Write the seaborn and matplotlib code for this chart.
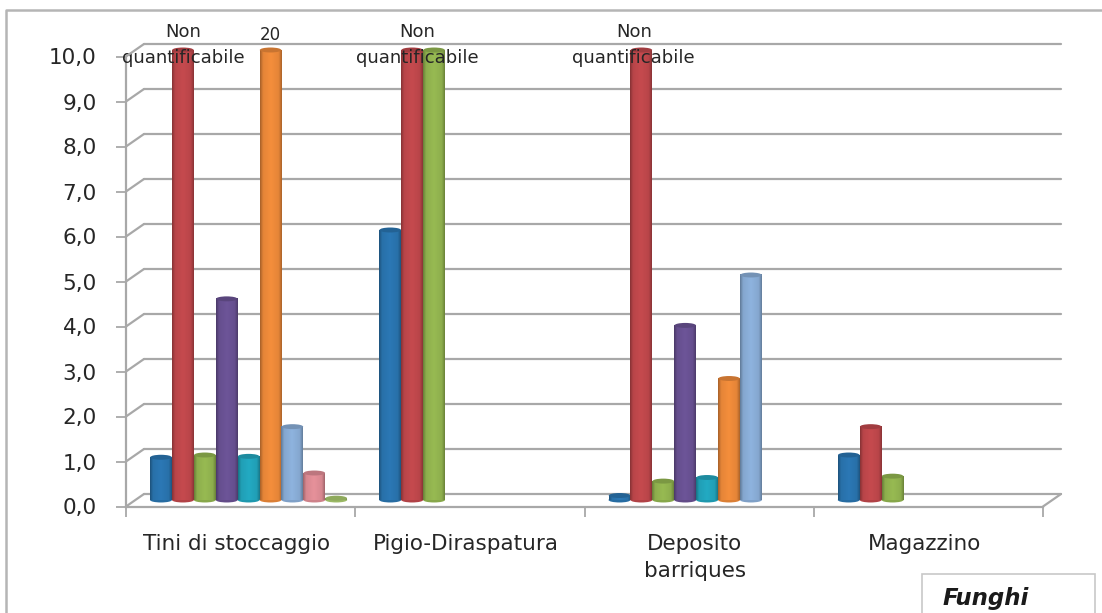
import numpy as np
import pandas as pd
import matplotlib
matplotlib.use("Agg")
import matplotlib.pyplot as plt
from matplotlib.colors import LinearSegmentedColormap, to_rgb
from matplotlib.lines import Line2D
from matplotlib.patches import Ellipse, Rectangle
import seaborn as sns

categories = ["Tini di stoccaggio", "Pigio-Diraspatura", "Deposito\nbarriques", "Magazzino"]
series_names = ["A", "B", "C", "D", "E", "F", "G", "H", "I"]
nan = float("nan")
s_a = [0.95, 6.0, 0.1, 1.0]
s_b = [10.0, 10.0, 10.0, 1.63]
s_c = [1.0, 10.0, 0.42, 0.53]
s_d = [4.47, nan, 3.88, nan]
s_e = [0.97, nan, 0.5, nan]
s_f = [10.0, nan, 2.7, nan]
s_g = [1.63, nan, 5.0, nan]
s_h = [0.6, nan, nan, nan]
s_i = [0.04, nan, nan, nan]
colors = ["#2a75b0", "#c0484c", "#93b550", "#6a5294", "#22a5bd",
          "#ee8a3a", "#8aaed8", "#e08d96", "#a9c96e"]
y_ticks = [0, 1, 2, 3, 4, 5, 6, 7, 8, 9, 10]
y_labels = ["0,0", "1,0", "2,0", "3,0", "4,0", "5,0", "6,0", "7,0", "8,0", "9,0", "10,0"]
note_text = "Non\nquantificabile"

W, H = 1102, 613
GREY = "#a8a8a8"
TEXT = "#262626"
BAR_WIDTH = 0.86
SLOT = BAR_WIDTH / len(series_names)

sns.set_theme(style="white")
plt.rcParams["font.family"] = ["DejaVu Sans"]
fig = plt.figure(figsize=(W / 100, H / 100), dpi=100, facecolor="white")


def px_axes(left, right, bottom, top, **kw):
    return fig.add_axes([left / W, 1 - bottom / H, (right - left) / W, (bottom - top) / H], **kw)


# Three parallel planes give the chart its depth: back wall, bars, front axis.
ax_back = px_axes(144, 1061, 494, 44)
ax_front = px_axes(126, 1043, 506.5, 56.5)
ax = px_axes(134, 1051, 500, 50)

for a in (ax_back, ax_front, ax):
    a.set_xlim(-0.5, 3.5)
    a.set_ylim(0, 10)
    a.patch.set_alpha(0)
    for spine in a.spines.values():
        spine.set_visible(False)

ax_back.set_xticks([])
ax_back.set_yticks(y_ticks)
ax_back.set_yticklabels([])
ax_back.tick_params(left=False)
ax_back.grid(axis="y", color=GREY, lw=1.6)
for gridline in ax_back.get_ygridlines():
    gridline.set_clip_on(False)

for side in ("left", "bottom"):
    ax_front.spines[side].set_visible(True)
    ax_front.spines[side].set_color(GREY)
    ax_front.spines[side].set_linewidth(1.6)
ax_front.set_yticks(y_ticks)
ax_front.set_yticklabels(y_labels, fontsize=15.5, color=TEXT)
ax_front.set_xticks([-0.5, 0.5, 1.5, 2.5, 3.5])
ax_front.set_xticklabels([])
ax_front.tick_params(axis="both", length=7, width=1.3, color=GREY, left=True, bottom=True)
ax_front.tick_params(axis="y", pad=14)
ax_front.grid(False)

# Slanted connectors between the front axis and the back wall.
conn = [(ax_front.transData.transform((-0.5, v)), ax_back.transData.transform((-0.5, v))) for v in y_ticks]
conn.append((ax_front.transData.transform((3.5, 0)), ax_back.transData.transform((3.5, 0))))
inv = fig.transFigure.inverted()
for p, q in conn:
    (x0, y0), (x1, y1) = inv.transform(p), inv.transform(q)
    fig.add_artist(Line2D([x0, x1], [y0, y1], color=GREY, lw=1.6))

# Bars
frame = pd.DataFrame({
    "category": np.tile(categories, len(series_names)),
    "series": np.repeat(series_names, len(categories)),
    "value": s_a + s_b + s_c + s_d + s_e + s_f + s_g + s_h + s_i,
})
sns.barplot(data=frame, x="category", y="value", hue="series", order=categories,
            hue_order=series_names, palette=colors, width=BAR_WIDTH, gap=0, dodge=True,
            legend=False, errorbar=None, saturation=1, ax=ax, linewidth=0)
ax.set_xlabel("")
ax.set_ylabel("")
ax.set_xticks([])
ax.set_yticks([])

# Each flat bar becomes a softly shaded cylinder with elliptical ends.
shade = np.linspace(0, 1, 64).reshape(1, -1)
for n, patch in enumerate(list(ax.patches)):
    x0, w, h = patch.get_x(), patch.get_width(), patch.get_height()
    if not np.isfinite(h) or h <= 0:
        continue
    rgb = np.array(to_rgb(patch.get_facecolor()))
    z = 3 + n * 0.01
    cmap = LinearSegmentedColormap.from_list("cyl", [
        (0.0, rgb * 0.70), (0.14, rgb * 0.96), (0.5, np.minimum(rgb * 1.03, 1)),
        (0.86, rgb * 0.96), (1.0, rgb * 0.72)])
    patch.set_visible(False)
    ax.add_patch(Ellipse((x0 + w / 2, 0), w, 0.11, color=rgb * 0.92, zorder=z, lw=0, clip_on=False))
    ax.imshow(shade, extent=(x0, x0 + w, 0, h), cmap=cmap, aspect="auto",
              zorder=z + 0.001, interpolation="bilinear")
    ax.add_patch(Ellipse((x0 + w / 2, h), w * 0.98, 0.11, color=rgb * 0.84, zorder=z + 0.002, lw=0, clip_on=False))
ax.set_xlim(-0.5, 3.5)
ax.set_ylim(0, 10)

# Category labels under the front axis.
for i, name in enumerate(categories):
    ax_front.annotate(name, (i, 0), xytext=(-3, -19.5), textcoords="offset points",
                      ha="center", va="top", fontsize=15.5, color=TEXT, linespacing=1.45)

# Notes for the readings that run off the scale, anchored on their bars.
for cat, slot_pos in [(0, -3.0), (1, -2.75), (2, -3.35)]:
    ax.annotate(note_text, (cat + slot_pos * SLOT, 10.0), xytext=(0, -12), textcoords="offset points",
                ha="center", va="bottom", fontsize=13, color=TEXT, linespacing=1.55,
                annotation_clip=False, zorder=9)
ax.annotate("20", (0 + 1 * SLOT, 10.0), xytext=(0, 4), textcoords="offset points",
            ha="center", va="bottom", fontsize=12, color=TEXT, annotation_clip=False, zorder=9)

# Outer frame (top and left edges) and the caption box running past the lower edge.
fig.add_artist(Line2D([6 / W, 6 / W, 1], [0, 1 - 10 / H, 1 - 10 / H], color="#b5b5b5", lw=1.8))
fig.add_artist(Rectangle((922 / W, -0.1), 173 / W, 0.1 + (H - 574) / H, transform=fig.transFigure,
                         fill=False, edgecolor="#c8c8c8", lw=1.2))
fig.text(943 / W, 1 - 599 / H, "Funghi", fontsize=16.5, fontweight="bold", fontstyle="italic",
         color="#1a1a1a", ha="left", va="center")

fig.savefig("out.png", dpi=100)
